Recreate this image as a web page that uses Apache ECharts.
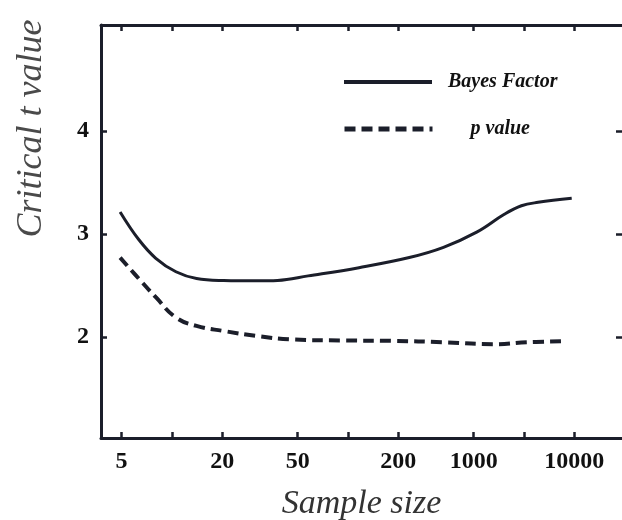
<!DOCTYPE html>
<html>
<head>
<meta charset="utf-8">
<script src="https://cdn.jsdelivr.net/npm/echarts@6/dist/echarts.min.js"></script>
<style>
html,body{margin:0;padding:0;background:#fff;}
#chart{width:622px;height:520px;}
</style>
</head>
<body>
<div id="chart"></div>
<script>
// x axis is an ordinal-like sample-size axis: positions of ticks and their labels
const xTickPos = [0, 1, 2, 3.5, 4.5, 5.5, 7, 8, 9];
const xLabelPos = [0, 2, 3.5, 5.5, 7, 9];
const xLabelText = ['5', '20', '50', '200', '1000', '10000'];
const yTicks = [2, 3, 4];

// Bayes Factor critical t (x = axis position)
const bayesX = [-0.03, 0.34, 0.68, 1.08, 1.49, 2.03, 2.70, 3.10, 3.71, 4.72, 5.72, 6.40, 7.07, 7.61, 7.95, 8.28, 8.95];
const bayesY = [3.215, 2.947, 2.765, 2.634, 2.568, 2.549, 2.546, 2.55, 2.594, 2.674, 2.772, 2.871, 3.021, 3.192, 3.275, 3.308, 3.348];

// p value critical t
const pX = [-0.03, 0.34, 0.68, 1.08, 1.49, 2.03, 2.70, 3.37, 4.38, 5.39, 6.40, 7.41, 8.08, 8.82];
const pY = [2.772, 2.568, 2.387, 2.19, 2.108, 2.059, 2.01, 1.977, 1.967, 1.963, 1.95, 1.931, 1.95, 1.96];

const ink = '#1b1e2a';
const serif = '"Liberation Serif", "DejaVu Serif", serif';

const chart = echarts.init(document.getElementById('chart'), null, {renderer: 'canvas'});

function xAx(pos, showLabels) {
  return {
    type: 'value', position: pos, min: -0.41, max: 9.95,
    axisLine: {show: true, onZero: false, lineStyle: {color: ink, width: 3}},
    axisTick: {show: true, inside: true, length: 6, customValues: xTickPos, lineStyle: {color: ink, width: 2.5}},
    axisLabel: showLabels ? {
      show: true, customValues: xLabelPos,
      formatter: v => { const i = xLabelPos.findIndex(p => Math.abs(p - v) < 1e-6); return i >= 0 ? xLabelText[i] : ''; },
      fontSize: 24, fontWeight: 'bold', fontFamily: serif, color: '#111', margin: 12
    } : {show: false},
    splitLine: {show: false}
  };
}
function yAx(pos, showLabels) {
  return {
    type: 'value', position: pos, min: 1.02, max: 5.03,
    axisLine: {show: showLabels, onZero: false, lineStyle: {color: ink, width: 3}},
    axisTick: {show: true, inside: true, length: 6, customValues: yTicks, lineStyle: {color: ink, width: 2.5}},
    axisLabel: showLabels ? {
      show: true, customValues: yTicks, fontSize: 24, fontWeight: 'bold', fontFamily: serif, color: '#111', margin: 12
    } : {show: false},
    splitLine: {show: false}
  };
}

const bottomX = xAx('bottom', true);
bottomX.name = 'Sample size';
bottomX.nameLocation = 'middle';
bottomX.nameGap = 49;
bottomX.nameTextStyle = {fontSize: 34, fontStyle: 'italic', fontFamily: serif, color: '#333'};

const leftY = yAx('left', true);
leftY.name = 'Critical t value';
leftY.nameLocation = 'middle';
leftY.nameGap = 51;
leftY.nameTextStyle = {fontSize: 36, fontStyle: 'italic', fontFamily: serif, color: '#4a4a4a', padding: [0, 0, 0, 206]};

const legendText = {fontSize: 20, fontStyle: 'italic', fontWeight: 'bold', fontFamily: serif, color: '#111'};

chart.setOption({
  animation: false,
  grid: {left: 101, top: 25, right: 0, bottom: 82, containLabel: false, outerBoundsMode: 'none'},
  xAxis: [bottomX, xAx('top', false)],
  yAxis: [leftY, yAx('right', false)],
  legend: [
    {data: ['Bayes Factor'], left: 342, top: 72, itemWidth: 88, itemHeight: 18, padding: 0,
     itemStyle: {opacity: 0}, lineStyle: {width: 4},
     textStyle: Object.assign({}, legendText, {padding: [0, 0, 0, 11]})},
    {data: ['p value'], left: 342, top: 119, itemWidth: 88, itemHeight: 18, padding: 0,
     itemStyle: {opacity: 0}, lineStyle: {width: 5},
     textStyle: Object.assign({}, legendText, {padding: [0, 0, 0, 33]})}
  ],
  series: [
    {name: 'Bayes Factor', type: 'line', xAxisIndex: 0, yAxisIndex: 0, smooth: 0.4, symbol: 'none',
     lineStyle: {color: ink, width: 3}, itemStyle: {color: ink},
     data: bayesX.map((x, i) => [x, bayesY[i]])},
    {name: 'p value', type: 'line', xAxisIndex: 0, yAxisIndex: 0, smooth: 0.45, symbol: 'none',
     lineStyle: {color: ink, width: 4, type: [11, 6]}, itemStyle: {color: ink},
     data: pX.map((x, i) => [x, pY[i]])}
  ]
});
</script>
</body>
</html>
